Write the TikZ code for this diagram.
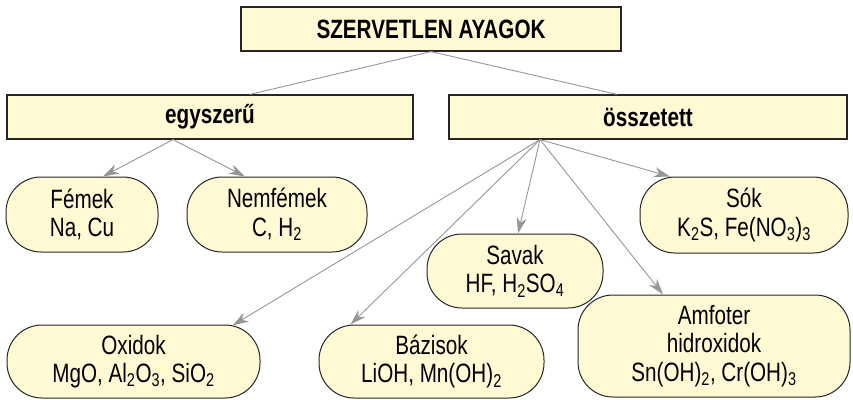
\documentclass[tikz,border=0pt]{standalone}
\usepackage{fontspec}
\setmainfont{Liberation Sans}[FakeStretch=0.78]
\usetikzlibrary{arrows.meta}
\definecolor{boxfill}{RGB}{255,249,212}
\definecolor{arrowgray}{RGB}{150,150,150}

\begin{document}
\begin{tikzpicture}[x=1pt,y=-1pt,
	font=\fontsize{26.5}{28.5}\selectfont,
	head/.style={draw=black!85, fill=boxfill, line width=1.2pt, inner sep=0pt, minimum height=44pt, font=\fontsize{26.5}{28.5}\selectfont\bfseries},
	group/.style={draw=black!85, fill=boxfill, line width=1pt, rounded corners=35pt, align=center, inner sep=0pt},
	link/.style={draw=arrowgray, line width=0.9pt},
	arr/.style={link, -{Stealth[length=16pt,width=10pt,inset=5pt]}}]
	\useasboundingbox (0,0) rectangle (853,399);

	% Headings
	\node[head, minimum width=380pt] (root) at (431,29) {SZERVETLEN AYAGOK};
	\node[head, minimum width=406pt] (egy) at (210,117) {egyszerű};
	\node[head, minimum width=398pt] (ossz) at (648,117) {összetett};

	% Groups under egyszerű
	\node[group, minimum width=152pt, minimum height=75pt] (femek) at (82,214.5) {Fémek\\Na, Cu};
	\node[group, minimum width=180pt, minimum height=75pt] (nemfemek) at (277,214.5) {Nemfémek\\C, H\textsubscript{2}};

	% Groups under összetett
	\node[group, minimum width=208pt, minimum height=76pt] (sok) at (744,215) {Sók\\K\textsubscript{2}S, Fe(NO\textsubscript{3})\textsubscript{3}};
	\node[group, minimum width=176pt, minimum height=74pt] (savak) at (515,271) {Savak\\HF, H\textsubscript{2}SO\textsubscript{4}};
	\node[group, minimum width=253pt, minimum height=73pt] (oxidok) at (133.5,361.5) {Oxidok\\MgO, Al\textsubscript{2}O\textsubscript{3}, SiO\textsubscript{2}};
	\node[group, minimum width=225pt, minimum height=73pt] (bazisok) at (431.5,361.5) {Bázisok\\LiOH, Mn(OH)\textsubscript{2}};
	\node[group, minimum width=272pt, minimum height=102pt] (amfoter) at (714,346) {Amfoter\\hidroxidok\\Sn(OH)\textsubscript{2}, Cr(OH)\textsubscript{3}};

	% Lines from the title
	\draw[link] (root.south) -- ([xshift=40pt]egy.north);
	\draw[link] (root.south) -- ([xshift=-31pt]ossz.north);

	% Arrows from egyszerű
	\draw[arr] ([xshift=-37pt]egy.south) -- ([xshift=21pt]femek.north);
	\draw[arr] ([xshift=-37pt]egy.south) -- ([xshift=-32pt]nemfemek.north);

	% Arrows from összetett
	\draw[arr] ([xshift=-108pt]ossz.south) -- ([xshift=-74pt]sok.north);
	\draw[arr] ([xshift=-108pt]ossz.south) -- ([xshift=3pt]savak.north);
	\draw[arr] ([xshift=-108pt]ossz.south) -- ([xshift=99pt,yshift=-1pt]oxidok.north);
	\draw[arr] ([xshift=-108pt]ossz.south) -- ([xshift=-81pt]bazisok.north);
	\draw[arr] ([xshift=-108pt]ossz.south) -- ([xshift=-51pt]amfoter.north);
\end{tikzpicture}
\end{document}
